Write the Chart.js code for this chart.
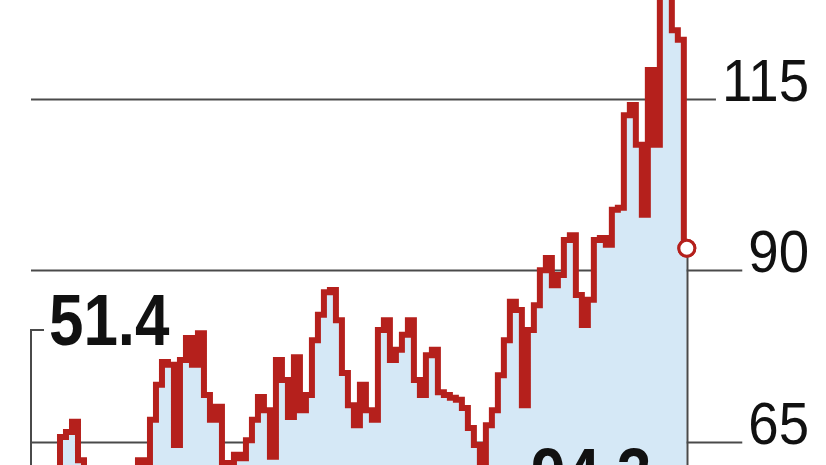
<!DOCTYPE html>
<html>
<head>
<meta charset="utf-8">
<script src="https://cdn.jsdelivr.net/npm/chart.js@4"></script>
<style>
  html, body { margin: 0; padding: 0; background: #fff; overflow: hidden; }
</style>
</head>
<body>
<canvas id="priceChart" width="826" height="465"></canvas>
<script>
// price series, one reading per step
const prices = [
  59.4, 59.7, 60.1, 65.7, 66.4, 67.9, 62.3, 59.7, 58.7, 59.1,
  59.4, 58.7, 59.7, 60.0, 60.6, 60.9, 62.3, 60.9, 68.2, 73.3,
  76.6, 76.2, 64.5, 76.9, 80.1, 76.2, 80.8, 71.8, 68.2, 70.1,
  61.9, 59.7, 63.1, 62.6, 65.2, 68.2, 71.5, 69.6, 62.8, 76.9,
  74.0, 68.6, 77.3, 69.6, 71.8, 79.8, 83.5, 86.8, 87.1, 82.7,
  75.0, 70.3, 67.4, 73.3, 69.6, 68.2, 81.3, 82.7, 76.9, 78.4,
  80.6, 82.7, 74.0, 71.8, 77.6, 78.4, 72.2, 71.8, 71.4, 71.1,
  69.9, 67.0, 64.5, 60.1, 67.4, 69.6, 74.7, 79.8, 85.4, 84.2,
  70.3, 81.3, 84.9, 90.0, 91.8, 87.8, 89.3, 94.4, 95.1, 86.4,
  82.0, 85.7, 94.4, 94.7, 93.7, 98.8, 99.1, 112.6, 114.1, 108.3,
  98.1, 119.2, 108.3, 133.8, 132.3, 125.0, 123.6, 93.2
];

// right-hand axis ticks
const tickValues = [115, 90, 65];
const tickLabels = ['115', '90', '65'];

// callouts printed on the chart
const startNote = '51.4';
const endNote = '94.3';

const lineRed = '#b5201c';
const areaBlue = '#d5e8f6';
const ruleGrey = '#4a4a4a';
const numFont = "'Liberation Sans', sans-serif";

const lastIdx = prices.length - 1;

// the printed figures use a narrow face; squeeze the text sideways
function narrowText(c, text, x, y, squeeze) {
  c.save();
  c.translate(x, y);
  c.scale(squeeze, 1);
  c.fillText(text, 0, 0);
  c.restore();
}

const annotations = {
  id: 'annotations',
  beforeDatasetsDraw(chart) {
    const c = chart.ctx;
    const area = chart.chartArea;
    const y = chart.scales.y;
    const squeeze = 0.91;
    c.save();
    c.font = '60px ' + numFont;
    c.textAlign = 'right';
    c.textBaseline = 'alphabetic';
    tickValues.forEach((v, i) => {
      const py = Math.round(y.getPixelForValue(v)) + 0.5;
      const labelRight = area.left + 809;
      const w = c.measureText(tickLabels[i]).width * squeeze;
      c.strokeStyle = ruleGrey;
      c.lineWidth = 2;
      c.beginPath();
      c.moveTo(area.left + 31, py);
      c.lineTo(labelRight - w - 6, py);
      c.stroke();
      c.fillStyle = '#111';
      narrowText(c, tickLabels[i], labelRight, py + 1, squeeze);
    });
    c.restore();
  },
  afterDatasetsDraw(chart) {
    const c = chart.ctx;
    const area = chart.chartArea;
    const meta = chart.getDatasetMeta(0);
    const end = meta.data[lastIdx];
    c.save();
    // drop line from the last reading
    c.strokeStyle = ruleGrey;
    c.lineWidth = 2;
    c.beginPath();
    c.moveTo(Math.round(end.x) + 0.5, end.y + 9);
    c.lineTo(Math.round(end.x) + 0.5, area.bottom);
    c.stroke();
    // bracket on the left
    c.beginPath();
    c.moveTo(area.left + 31, area.bottom);
    c.lineTo(area.left + 31, 330);
    c.lineTo(area.left + 44, 330);
    c.stroke();
    c.fillStyle = '#111';
    c.font = 'bold 72px ' + numFont;
    c.textAlign = 'left';
    narrowText(c, startNote, area.left + 49, 345, 0.86);
    narrowText(c, endNote, area.left + 531, 499, 0.86);
    c.restore();
    // redraw the end marker on top
    end.draw(c, area);
  }
};

new Chart(document.getElementById('priceChart'), {
  type: 'line',
  data: {
    datasets: [{
      data: prices.map((v, i) => ({ x: i, y: v })),
      borderColor: lineRed,
      borderWidth: 6,
      borderJoinStyle: 'miter',
      backgroundColor: areaBlue,
      fill: 'start',
      stepped: 'middle',
      pointRadius: ctx => ctx.dataIndex === lastIdx ? 8 : 0,
      pointBorderWidth: 3,
      pointBorderColor: lineRed,
      pointBackgroundColor: '#fff'
    }]
  },
  options: {
    responsive: false,
    animation: false,
    layout: { padding: 0, autoPadding: false },
    plugins: {
      legend: { display: false },
      tooltip: { enabled: false }
    },
    scales: {
      x: { type: 'linear', display: false, min: -7.5, max: 130.2 },
      y: { display: false, min: 61.6, max: 129.4 }
    }
  },
  plugins: [annotations]
});
</script>
</body>
</html>
